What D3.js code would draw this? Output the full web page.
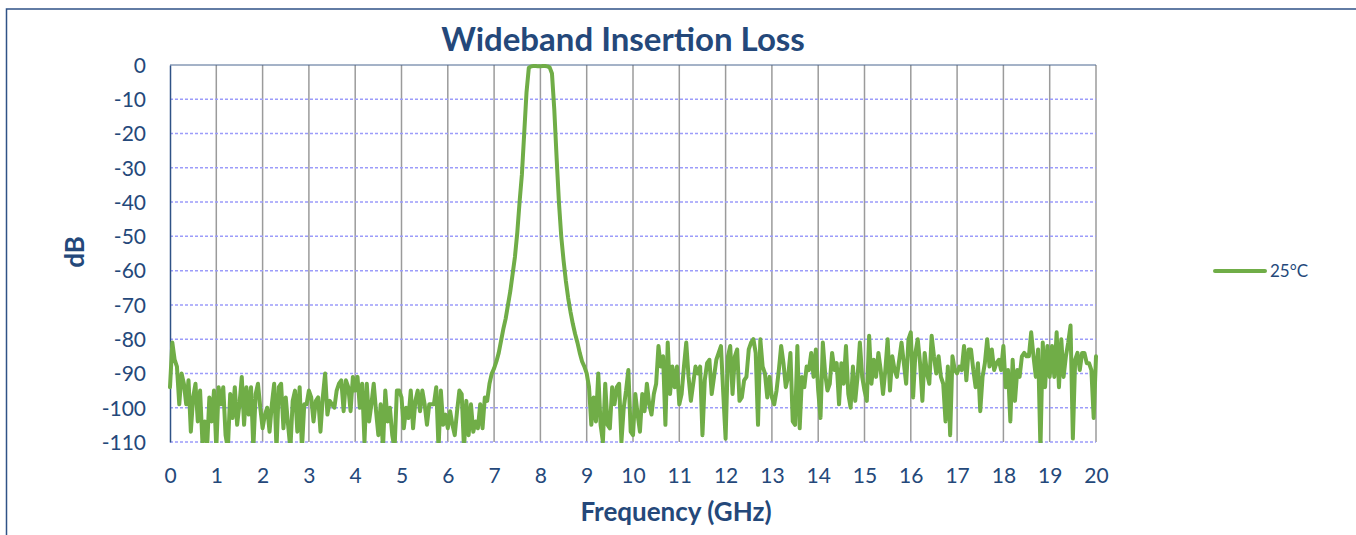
<!DOCTYPE html>
<html><head><meta charset="utf-8">
<script src="https://cdn.jsdelivr.net/npm/d3@7"></script>
<style>
html,body{margin:0;padding:0;background:#fff;overflow:hidden;}
svg{display:block;}
</style></head>
<body>
<svg id="chart" width="1356" height="535"></svg>
<script>
// ---- data ----
const chartTitle = "Wideband Insertion Loss";
const xTitle = "Frequency (GHz)";
const yTitle = "dB";
const seriesName = "25°C";
const xTicks = [0,1,2,3,4,5,6,7,8,9,10,11,12,13,14,15,16,17,18,19,20];
const yTicks = [0,-10,-20,-30,-40,-50,-60,-70,-80,-90,-100,-110];
const freqStepGHz = 0.05; // sample spacing of the sweep, starting at 0 GHz

// 0.00 – 6.95 GHz
const lowBandLoss = [
 -94,-81,-86,-88,-99,-90,-93,-99,-92,-107,-97,-93,-104,-95,-110,-104,-112,-97,-104,-95,
 -112,-94,-99,-94,-108,-112,-96,-103,-94,-105,-99,-91,-105,-94,-102,-94,-112,-96,-93,-100,
 -106,-102,-100,-107,-99,-93,-112,-94,-93,-106,-97,-105,-112,-98,-95,-107,-94,-112,-99,-99,
 -95,-97,-104,-98,-97,-107,-97,-90,-102,-98,-99,-100,-95,-93,-92,-101,-92,-94,-101,-91,
 -95,-91,-100,-93,-110,-93,-104,-99,-93,-101,-108,-99,-112,-95,-104,-100,-108,-112,-95,-95,
 -97,-106,-100,-103,-95,-106,-98,-95,-101,-95,-99,-105,-99,-99,-99,-94,-112,-95,-105,-102,
 -106,-101,-105,-108,-101,-95,-96,-112,-98,-108,-99,-107,-104,-106,-99,-106,-97,-98,-93,-90
];
// 7.00 – 9.00 GHz
const passBandLoss = [
 -88.5,-86.5,-84,-80.5,-77,-74,-70,-66,-61,-56,-49,-40,-32,-20,-8,-0.8,-0.4,-0.3,-0.3,-0.4,
 -0.4,-0.3,-0.3,-0.4,-0.7,-2.5,-13,-27,-40,-50,-57,-63,-68,-72,-75.5,-78.5,-81,-84,-86.5,-88,
 -90
];
// 9.05 – 20.00 GHz
const highBandLoss = [
 -94,-105,-97,-104,-90,-105,-110,-93,-105,-106,-94,-99,-94,-93,-110,-100,-95,-89,-107,
 -108,-96,-102,-107,-96,-101,-93,-99,-102,-96,-93,-82,-88,-85,-105,-81,-96,-88,-94,-88,
 -99,-96,-88,-81,-91,-98,-93,-88,-90,-88,-108,-92,-87,-86,-96,-91,-86,-84,-82,-96,
 -109,-85,-82,-96,-85,-83,-98,-97,-92,-91,-83,-81,-80,-84,-105,-80,-88,-90,-97,-91,
 -97,-99,-95,-89,-82,-87,-94,-91,-84,-104,-105,-82,-106,-91,-94,-88,-89,-84,-91,-83,
 -95,-103,-81,-90,-95,-93,-84,-89,-87,-99,-87,-93,-82,-96,-100,-88,-98,-91,-81,-91,
 -95,-98,-79,-93,-86,-91,-84,-89,-96,-89,-80,-95,-85,-89,-91,-86,-81,-87,-93,-80,
 -78,-97,-84,-80,-87,-98,-84,-90,-93,-79,-85,-90,-85,-91,-93,-104,-88,-108,-85,-89,
 -90,-88,-89,-82,-92,-83,-83,-89,-94,-87,-101,-91,-87,-80,-88,-83,-89,-87,-86,-89,
 -82,-94,-89,-104,-86,-98,-89,-91,-85,-84,-85,-85,-78,-85,-91,-83,-112,-81,-94,-82,
 -91,-82,-91,-78,-94,-80,-91,-85,-81,-76,-109,-86,-84,-89,-84,-84,-87,-87,-89,-103,-85
];

const lossValues = lowBandLoss.concat(passBandLoss, highBandLoss);
const points = lossValues.map((v, i) => ({ f: i * freqStepGHz, v }));

// ---- layout ----
const svg = d3.select("#chart");
const textColor = "#24487A";
const font = "Lato, 'Open Sans', sans-serif";
const plotL = 170, plotR = 1096, plotT = 65, plotB = 442;

const x = d3.scaleLinear().domain([0, 20]).range([plotL, plotR]);
const y = d3.scaleLinear().domain([-110, 0]).range([plotB, plotT]);

// outer chart frame
svg.append("rect").attr("x", 6.5).attr("y", 9).attr("width", 1400).attr("height", 600)
  .attr("fill", "none").attr("stroke", "#2F5286").attr("stroke-width", 1.5);

// title
svg.append("text").attr("x", 623).attr("y", 51).attr("text-anchor", "middle")
  .attr("font-family", font).attr("font-weight", 700).attr("font-size", 33)
  .attr("fill", textColor).text(chartTitle);

// vertical gridlines
svg.append("g").selectAll("line").data(xTicks.filter(d => d > 0)).join("line")
  .attr("x1", d => x(d)).attr("x2", d => x(d)).attr("y1", plotT).attr("y2", plotB)
  .attr("stroke", "#9B9B9B").attr("stroke-width", 1.5);

// horizontal gridlines (dashed)
svg.append("g").selectAll("line").data(yTicks.filter(d => d < 0)).join("line")
  .attr("x1", plotL).attr("x2", plotR).attr("y1", d => y(d)).attr("y2", d => y(d))
  .attr("stroke", "#9C9CFA").attr("stroke-width", 1.5).attr("stroke-dasharray", "3,2");

// plot top border
svg.append("line").attr("x1", plotL).attr("x2", plotR).attr("y1", plotT).attr("y2", plotT)
  .attr("stroke", "#4A6690").attr("stroke-width", 1);

// y axis
const yAxis = d3.axisLeft(y).tickValues(yTicks).tickSize(0).tickPadding(24).tickFormat(d => String(d));
const gy = svg.append("g").attr("transform", `translate(${plotL},0)`).call(yAxis);
gy.select(".domain").attr("stroke", "#2F5286").attr("stroke-width", 1.5);
gy.selectAll("text").attr("font-family", font).attr("font-size", 21).attr("fill", textColor)
  .attr("dy", "0.35em");

// x axis
const xAxis = d3.axisBottom(x).tickValues(xTicks).tickSize(0).tickPadding(26).tickFormat(d => String(d));
const gx = svg.append("g").attr("transform", `translate(0,${plotB})`).call(xAxis);
gx.select(".domain").remove();
gx.selectAll("text").attr("font-family", font).attr("font-size", 21).attr("fill", textColor);

// axis titles
svg.append("text").attr("x", 676).attr("y", 521).attr("text-anchor", "middle")
  .attr("font-family", font).attr("font-weight", 700).attr("font-size", 26)
  .attr("fill", textColor).text(xTitle);
svg.append("text").attr("transform", "translate(84,252) rotate(-90)").attr("text-anchor", "middle")
  .attr("font-family", font).attr("font-weight", 700).attr("font-size", 26)
  .attr("fill", textColor).text(yTitle);

// clip
svg.append("clipPath").attr("id", "plotClip").append("rect")
  .attr("x", plotL - 2).attr("y", plotT - 6).attr("width", plotR - plotL + 4).attr("height", plotB - plotT + 7);

// series line
const line = d3.line().x(d => x(d.f)).y(d => y(d.v)).curve(d3.curveLinear);
svg.append("path").datum(points).attr("clip-path", "url(#plotClip)")
  .attr("d", line).attr("fill", "none").attr("stroke", "#70AD47")
  .attr("stroke-width", 4).attr("stroke-linejoin", "round").attr("stroke-linecap", "round");

// legend
const lg = svg.append("g");
lg.append("line").attr("x1", 1215).attr("x2", 1265).attr("y1", 271).attr("y2", 271)
  .attr("stroke", "#70AD47").attr("stroke-width", 4).attr("stroke-linecap", "round");
lg.append("text").attr("x", 1270).attr("y", 277).attr("font-family", font).attr("font-size", 17)
  .attr("fill", textColor).text(seriesName);
</script>
</body></html>
